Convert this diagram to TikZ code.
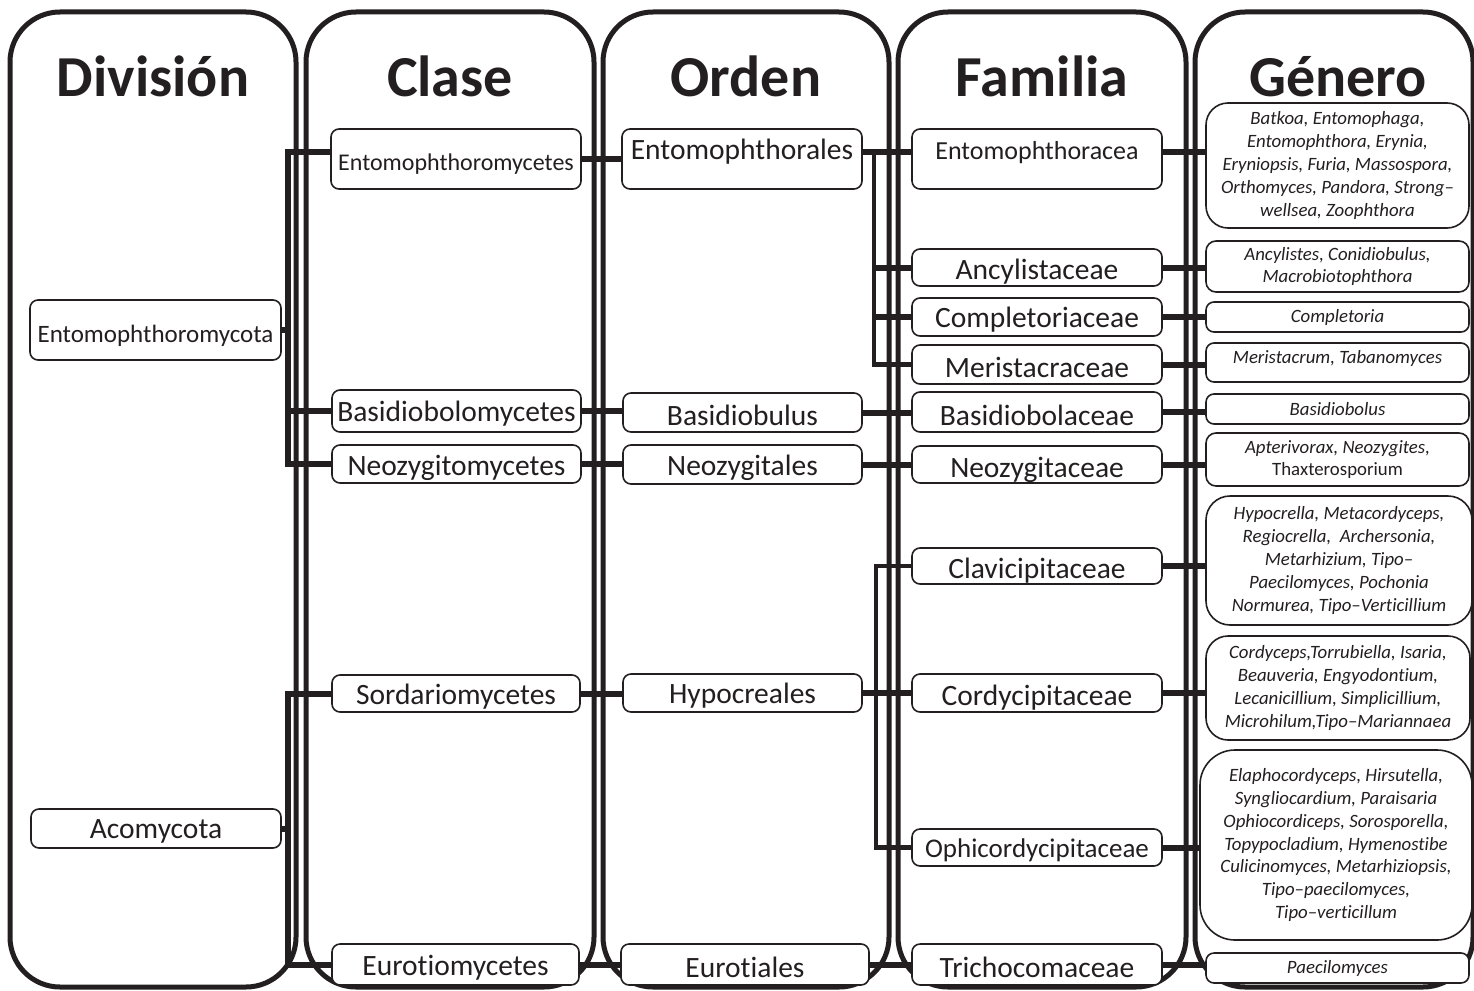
\documentclass[tikz,border=0pt]{standalone}
\usepackage{fontspec}
\setmainfont{Carlito}[Ligatures={TeX,NoCommon}]
\definecolor{ink}{HTML}{231F20}
\newcommand\shiftv[2]{\raisebox{#1}[\height][\depth]{#2}}
\newcommand\dn[1]{\raisebox{-3pt}[\height][\depth]{#1}}
\newcommand\fs[1]{\fontsize{#1}{#1}\selectfont}
\begin{document}
\begin{tikzpicture}[x=1pt,y=-1pt,
  panel/.style={draw=ink, line width=5pt, rounded corners=50pt},
  box/.style={draw=ink, line width=1.6pt, rounded corners=8pt, fill=white, inner sep=0pt,
    text=ink, font=\fs{29.5}},
  gen/.style={box, align=center, font=\fontsize{18.8}{22.8}\selectfont\itshape},
  link/.style={draw=ink, line width=6pt},
  branch/.style={draw=ink, line width=4.5pt},
  head/.style={text=ink, anchor=base, font=\fontsize{58}{60}\selectfont\bfseries}]
\useasboundingbox (0,0) rectangle (1474,990);
% panels
\draw[panel] (10,12) rectangle (296,987);
\draw[panel] (306,12) rectangle (594,987);
\draw[panel] (603,12) rectangle (889,987);
\draw[panel] (898,12) rectangle (1186,987);
\draw[panel] (1195,12) rectangle (1473,987);
% headers
\node[head] (hDiv) at (153,96) {División};
\node[head] (hCla) at (450,96) {Clase};
\node[head] (hOrd) at (746,96) {Orden};
\node[head] (hFam) at (1042,96) {Familia};
\node[head] (hGen) at (1338,96) {Género};
% Division
\node[box, minimum width=251, minimum height=60, font=\fs{25}] (dEnt) at (155.5,330) {\shiftv{-6pt}{Entomophthoromycota}};
\node[box, minimum width=250, minimum height=39] (dAco) at (156,828.5) {\dn{Acomycota}};
% Clase
\node[box, minimum width=250, minimum height=60, font=\fs{24}] (cEnt) at (456,159) {\shiftv{-5pt}{Entomophthoromycetes}};
\node[box, minimum width=249, minimum height=42] (cBas) at (456.5,411) {\dn{Basidiobolomycetes}};
\node[box, minimum width=249, minimum height=38] (cNeo) at (456.5,464) {\shiftv{-4pt}{Neozygitomycetes}};
\node[box, minimum width=248, minimum height=37] (cSor) at (456,693.5) {\dn{Sordariomycetes}};
\node[box, minimum width=247, minimum height=41] (cEur) at (455.5,964.5) {\dn{Eurotiomycetes}};
% Orden
\node[box, minimum width=240, minimum height=60] (oEnt) at (742,159) {\shiftv{7pt}{Entomophthorales}};
\node[box, minimum width=239, minimum height=39] (oBas) at (742.5,412.5) {\dn{Basidiobulus}};
\node[box, minimum width=239, minimum height=39] (oNeo) at (742.5,464.5) {\dn{Neozygitales}};
\node[box, minimum width=239, minimum height=38] (oHyp) at (742.5,693) {\dn{Hypocreales}};
\node[box, minimum width=248, minimum height=41] (oEur) at (745,964.5) {\dn{Eurotiales}};
% Familia
\node[box, minimum width=250, minimum height=60, font=\fs{26}] (fEnt) at (1037,159) {\shiftv{6pt}{Entomophthoracea}};
\node[box, minimum width=250, minimum height=37] (fAnc) at (1037,267.5) {\shiftv{-4pt}{Ancylistaceae}};
\node[box, minimum width=250, minimum height=38] (fCom) at (1037,317) {\dn{Completoriaceae}};
\node[box, minimum width=250, minimum height=39] (fMer) at (1037,364.5) {\dn{Meristacraceae}};
\node[box, minimum width=250, minimum height=40] (fBas) at (1037,412) {\dn{Basidiobolaceae}};
\node[box, minimum width=250, minimum height=37] (fNeo) at (1037,464.5) {\shiftv{-5pt}{Neozygitaceae}};
\node[box, minimum width=250, minimum height=36] (fCla) at (1037,566) {\shiftv{-5pt}{Clavicipitaceae}};
\node[box, minimum width=250, minimum height=38] (fCor) at (1037,693) {\shiftv{-5pt}{Cordycipitaceae}};
\node[box, minimum width=250, minimum height=37, font=\fs{27}] (fOph) at (1037,847.5) {\dn{Ophicordycipitaceae}};
\node[box, minimum width=250, minimum height=41] (fTri) at (1037,964.5) {\dn{Trichocomaceae}};
% Genero
\node[gen, minimum width=263, minimum height=125, rounded corners=22pt] (g1) at (1337.5,165.5)
  {Batkoa, Entomophaga,\\Entomophthora, Erynia,\\Eryniopsis, Furia, Massospora,\\Orthomyces, Pandora, Strong–\\wellsea, Zoophthora};
\node[gen, minimum width=263, minimum height=51, rounded corners=10pt] (g2) at (1337.5,266.5)
  {Ancylistes, Conidiobulus,\\Macrobiotophthora};
\node[gen, minimum width=263, minimum height=30] (g3) at (1337.5,317) {Completoria};
\node[gen, minimum width=263, minimum height=39] (g4) at (1337.5,362.5) {\shiftv{4pt}{Meristacrum, Tabanomyces}};
\node[gen, minimum width=263, minimum height=30] (g5) at (1337.5,409) {Basidiobolus};
\node[gen, minimum width=263, minimum height=53, rounded corners=10pt] (g6) at (1337.5,459.5)
  {Apterivorax, Neozygites,\\\upshape Thaxterosporium};
\node[gen, minimum width=266, minimum height=129, rounded corners=24pt] (g7) at (1339,560.5)
  {Hypocrella, Metacordyceps,\\Regiocrella,\ \ Archersonia,\\Metarhizium, Tipo–\\Paecilomyces, Pochonia\\Normurea, Tipo–Verticillium};
\node[gen, minimum width=264, minimum height=104, rounded corners=22pt] (g8) at (1338,688)
  {Cordyceps,Torrubiella, Isaria,\\Beauveria, Engyodontium,\\Lecanicillium, Simplicillium,\\Microhilum,Tipo–Mariannaea};
\node[gen, minimum width=272, minimum height=190, rounded corners=35pt] (g9) at (1336,845)
  {Elaphocordyceps, Hirsutella,\\Syngliocardium, Paraisaria\\Ophiocordiceps, Sorosporella,\\Topypocladium, Hymenostibe\\Culicinomyces, Metarhiziopsis,\\Tipo–paecilomyces,\\Tipo–verticillum};
\node[gen, minimum width=263, minimum height=30] (g10) at (1337.5,968) {Paecilomyces};
% junctions
\coordinate (jA) at (288,330);
\coordinate (jB) at (288,828.5);
\coordinate (jC) at (874,152);
\coordinate (jD) at (876,693);
% Division -> Clase
\draw[link] (dEnt.east) -- (jA);
\draw[link] ([yshift=7pt]cEnt.west) -| (jA) |- (cNeo.west);
\draw[link] (jA |- cBas.west) -- (cBas.west);
\draw[link] (dAco.east) -- (jB);
\draw[link] (cSor.west) -| (jB) |- (cEur.west);
% Clase -> Orden
\draw[link] (cEnt.east) -- (cEnt.east -| oEnt.west);
\draw[link] (cBas.east) -- (cBas.east -| oBas.west);
\draw[link] (cNeo.east) -- (cNeo.east -| oNeo.west);
\draw[link] (cSor.east) -- (cSor.east -| oHyp.west);
\draw[link] (cEur.east) -- (cEur.east -| oEur.west);
% Orden -> Familia
\draw[link] ([yshift=7pt]oEnt.east) -- ([yshift=7pt]oEnt.east -| fEnt.west);
\draw[branch] (jC) |- (fMer.west);
\draw[link] (jC |- fAnc.west) -- (fAnc.west);
\draw[link] (jC |- fCom.west) -- (fCom.west);
\draw[link] (oBas.east) -- (oBas.east -| fBas.west);
\draw[link] (oNeo.east) -- (oNeo.east -| fNeo.west);
\draw[link] (oHyp.east) -- (fCor.west);
\draw[branch] (fCla.west) -| (jD) |- (fOph.west);
\draw[link] (oEur.east) -- (oEur.east -| fTri.west);
% Familia -> Genero
\draw[link] ([yshift=7pt]fEnt.east) -- ([yshift=7pt]fEnt.east -| g1.west);
\draw[link] (fAnc.east) -- (fAnc.east -| g2.west);
\draw[link] (fCom.east) -- (fCom.east -| g3.west);
\draw[link] (fMer.east) -- (fMer.east -| g4.west);
\draw[link] (fBas.east) -- (fBas.east -| g5.west);
\draw[link] (fNeo.east) -- (fNeo.east -| g6.west);
\draw[link] (fCla.east) -- (fCla.east -| g7.west);
\draw[link] (fCor.east) -- (fCor.east -| g8.west);
\draw[link] (fOph.east) -- (fOph.east -| g9.west);
\draw[link] (fTri.east) -- (fTri.east -| g10.west);
\end{tikzpicture}
\end{document}
